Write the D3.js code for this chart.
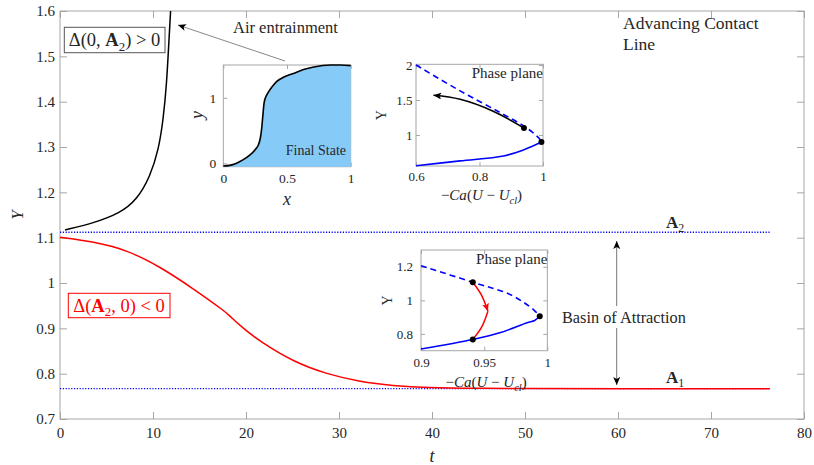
<!DOCTYPE html>
<html>
<head>
<meta charset="utf-8">
<script src="https://cdn.jsdelivr.net/npm/d3@7"></script>
<style>
body { margin: 0; background: #fff; }
text { font-family: "Liberation Serif", "DejaVu Serif", serif; fill: #262626; white-space: pre; }
</style>
</head>
<body>
<svg id="chart" width="814" height="465"></svg>
<script>
// ---- main plot data
const tTicks = [0, 10, 20, 30, 40, 50, 60, 70, 80];
const yTicks = [0.7, 0.8, 0.9, 1, 1.1, 1.2, 1.3, 1.4, 1.5, 1.6];

const levelA2 = 1.112, levelA1 = 0.767, tEnd = 76.3;

// decaying run (red), goes to A1
const redT = [0, 3.6, 7.2, 10.75, 14.3, 17.9, 18.2, 19.7, 21.5, 25.1, 28.7, 32.3, 35.8, 39.4, 45, 50, 60, 76.3];
const redY = [1.101, 1.091, 1.073, 1.036, 0.988, 0.935, 0.928, 0.900, 0.871, 0.826, 0.799, 0.782, 0.7735, 0.769, 0.7675, 0.767, 0.767, 0.767];

// blowing-up run (black), air entrainment
const blackT = [0.54, 3.6, 6.45, 8.25, 9.7, 10.6, 11.1, 11.47, 11.7, 11.9];
const blackY = [1.117, 1.132, 1.154, 1.183, 1.235, 1.294, 1.36, 1.44, 1.53, 1.603];

// ---- inset: final state profile
const profX = [0, 0.05, 0.1, 0.15, 0.21, 0.25, 0.275, 0.29, 0.30, 0.31, 0.32, 0.335, 0.355, 0.38, 0.42, 0.48, 0.55, 0.63, 0.71, 0.84, 0.92, 1.0];
const profY = [-0.04, -0.03, 0.0, 0.05, 0.13, 0.21, 0.28, 0.38, 0.51, 0.72, 0.92, 1.02, 1.09, 1.16, 1.25, 1.32, 1.37, 1.43, 1.47, 1.50, 1.50, 1.49];
const profXTicks = [0, 0.5, 1], profYTicks = [0, 1];

// ---- inset: phase plane (upper)
const pp1XTicks = [0.6, 0.8, 1], pp1YTicks = [1, 1.5, 2];
const pp1DashX = [0.6, 0.739, 0.865, 0.949, 0.99, 0.995];
const pp1DashY = [2.0, 1.63, 1.32, 1.10, 0.94, 0.9];
const pp1SolidX = [0.6, 0.739, 0.875, 0.938, 0.98, 0.995];
const pp1SolidY = [0.56, 0.63, 0.70, 0.786, 0.867, 0.9];
const pp1TrajX = [0.94, 0.843, 0.739, 0.655];
const pp1TrajY = [1.10, 1.34, 1.51, 1.567];
const pp1DotX = [0.94, 0.995], pp1DotY = [1.10, 0.9];

// ---- inset: phase plane (lower)
const pp2XTicks = [0.9, 0.95, 1], pp2YTicks = [0.8, 1, 1.2];
const pp2DashX = [0.9, 0.941, 0.971, 0.989, 0.994];
const pp2DashY = [1.206, 1.108, 1.033, 0.945, 0.905];
const pp2SolidX = [0.9, 0.941, 0.963, 0.984, 0.99, 0.994];
const pp2SolidY = [0.71, 0.767, 0.808, 0.867, 0.88, 0.905];
const pp2TrajX = [0.941, 0.948, 0.953, 0.948, 0.941];
const pp2TrajY = [1.108, 1.03, 0.935, 0.84, 0.767];
const pp2DotX = [0.941, 0.941, 0.994], pp2DotY = [1.108, 0.767, 0.905];

const zip = (a, b) => a.map((v, i) => [v, b[i]]);
const GRAY = '#a6a6a6', RED = '#ff0000', BLUE = '#0000ff';

const svg = d3.select('#chart');

const defs = svg.append('defs');
function head(id, color) {
    defs.append('marker').attr('id', id)
	.attr('markerUnits', 'userSpaceOnUse')
	.attr('markerWidth', 9).attr('markerHeight', 7)
	.attr('refX', 8).attr('refY', 3.5)
	.attr('orient', 'auto-start-reverse')
	.append('path').attr('d', 'M0,0 L8,3.5 L0,7 L2,3.5 z').attr('fill', color);
}
head('hk', '#000');
head('hr', RED);

// box with inward ticks on all four sides (matlab style)
function frame(g, x, y, o) {
    const [x0, x1] = x.range(), [y0, y1] = y.range();
    g.append('rect').attr('x', x0).attr('y', y1)
	.attr('width', x1 - x0).attr('height', y0 - y1)
	.attr('fill', 'none').attr('stroke', GRAY);
    const fmt = d3.format('~g');
    const sides = [
	[d3.axisBottom(x).tickValues(o.xt).tickPadding(o.px), `translate(0,${y0})`, true],
	[d3.axisTop(x).tickValues(o.xt), `translate(0,${y1})`, false],
	[d3.axisLeft(y).tickValues(o.yt).tickPadding(o.py), `translate(${x0},0)`, true],
	[d3.axisRight(y).tickValues(o.yt), `translate(${x1},0)`, false]
    ];
    sides.forEach(([ax, tr, lab]) => {
	const a = g.append('g').attr('transform', tr)
	    .call(ax.tickSize(-o.tl).tickSizeOuter(0).tickFormat(lab ? fmt : ''));
	a.attr('font-family', null).attr('font-size', o.fs);
	a.select('.domain').remove();
	a.selectAll('line').attr('stroke', GRAY);
	a.selectAll('text').attr('fill', '#262626');
    });
}

function mtext(sel, parts, fs) {
    let low = false;
    parts.forEach(([s, f = '']) => {
	const t = sel.append('tspan').text(s);
	if (f.includes('i')) t.attr('font-style', 'italic');
	if (f.includes('b')) t.attr('font-weight', 'bold');
	if (f.includes('s')) { t.attr('font-size', fs * 0.7).attr('dy', fs * 0.25); low = true; }
	else if (low) { t.attr('dy', -fs * 0.25); low = false; }
    });
    return sel;
}

// ---------- main axes
const x = d3.scaleLinear().domain([0, 80]).range([60, 804]);
const y = d3.scaleLinear().domain([0.7, 1.6]).range([419, 11]);

svg.append('clipPath').attr('id', 'clip').append('rect')
    .attr('x', 60).attr('y', 11).attr('width', 744).attr('height', 408);

const main = svg.append('g');
frame(main, x, y, { xt: tTicks, yt: yTicks, tl: 7, fs: 15, px: 8, py: 5 });

const line = d3.line().x(d => x(d[0])).y(d => y(d[1])).curve(d3.curveBasis);
const plot = main.append('g').attr('clip-path', 'url(#clip)');

[levelA2, levelA1].forEach(v => {
    plot.append('path').attr('d', line([[0, v], [tEnd, v]]))
	.attr('fill', 'none').attr('stroke', BLUE)
	.attr('stroke-width', 1.4).attr('stroke-dasharray', '1.2,1.6');
});
plot.append('path').attr('d', line(zip(redT, redY)))
    .attr('fill', 'none').attr('stroke', RED).attr('stroke-width', 1.5);
plot.append('path').attr('d', line(zip(blackT, blackY)))
    .attr('fill', 'none').attr('stroke', '#000').attr('stroke-width', 1.5);

main.append('text').attr('x', 432).attr('y', 462).attr('text-anchor', 'middle')
    .attr('font-size', 18).attr('font-style', 'italic').text('t');
main.append('text').attr('transform', 'translate(23,215) rotate(-90)')
    .attr('text-anchor', 'middle').attr('font-size', 17).attr('font-style', 'italic').text('Y');

// labels of the fixed points
mtext(main.append('text').attr('x', 666).attr('y', 228).attr('font-size', 17), [['A', 'b'], ['2', 's']], 17);
mtext(main.append('text').attr('x', 666).attr('y', 383).attr('font-size', 17), [['A', 'b'], ['1', 's']], 17);

// basin of attraction double arrow
main.append('line').attr('x1', 616.7).attr('x2', 616.7).attr('y1', 241).attr('y2', 385)
    .attr('stroke', '#777').attr('marker-start', 'url(#hk)').attr('marker-end', 'url(#hk)');
main.append('rect').attr('x', 560).attr('y', 306).attr('width', 132).attr('height', 22).attr('fill', '#fff');
main.append('text').attr('x', 562).attr('y', 323).attr('font-size', 16.3).text('Basin of Attraction');

// air entrainment annotation
main.append('line').attr('x1', 285).attr('y1', 61).attr('x2', 178).attr('y2', 25)
    .attr('stroke', '#888').attr('marker-end', 'url(#hk)');
main.append('text').attr('x', 233).attr('y', 33).attr('font-size', 16.5).text('Air entrainment');

main.append('text').attr('x', 623).attr('y', 29).attr('font-size', 17.5).text('Advancing Contact');
main.append('text').attr('x', 623).attr('y', 50).attr('font-size', 17.5).text('Line');

// delta boxes
main.append('rect').attr('x', 64.3).attr('y', 27.3).attr('width', 100.7).attr('height', 25.4)
    .attr('fill', '#fff').attr('stroke', '#555');
mtext(main.append('text').attr('x', 114.5).attr('y', 46).attr('text-anchor', 'middle').attr('font-size', 18.5),
      [['Δ(0, '], ['A', 'b'], ['2', 's'], [') > 0']], 18.5);
main.append('rect').attr('x', 68.3).attr('y', 293.3).attr('width', 101.7).attr('height', 24.4)
    .attr('fill', '#fff').attr('stroke', RED);
mtext(main.append('text').attr('x', 119).attr('y', 311.5).attr('text-anchor', 'middle').attr('font-size', 18.5).attr('fill', RED),
      [['Δ('], ['A', 'b'], ['2', 's'], [', 0) < 0']], 18.5).selectAll('tspan').attr('fill', RED);

// ---------- inset: final state
const ix = d3.scaleLinear().domain([0, 1]).range([223.3, 350.7]);
const iy = d3.scaleLinear().domain([-0.05, 1.5]).range([166.7, 65]);
const ins1 = svg.append('g');
ins1.append('rect').attr('x', 223.3).attr('y', 65).attr('width', 127.4).attr('height', 101.7).attr('fill', '#fff');
frame(ins1, ix, iy, { xt: profXTicks, yt: profYTicks, tl: 4, fs: 13.5, px: 6.5, py: 7 });
const prof = zip(profX, profY);
ins1.append('path')
    .attr('d', d3.area().x(d => ix(d[0])).y0(iy(-0.05)).y1(d => iy(d[1])).curve(d3.curveMonotoneX)(prof))
    .attr('fill', '#86cbf8');
ins1.append('path')
    .attr('d', d3.line().x(d => ix(d[0])).y(d => iy(d[1])).curve(d3.curveMonotoneX)(prof))
    .attr('fill', 'none').attr('stroke', '#000').attr('stroke-width', 1.6);
ins1.append('text').attr('x', 346).attr('y', 155).attr('text-anchor', 'end').attr('font-size', 14).text('Final State');
ins1.append('text').attr('x', 287).attr('y', 205).attr('text-anchor', 'middle')
    .attr('font-size', 18).attr('font-style', 'italic').text('x');
ins1.append('text').attr('transform', 'translate(203,115) rotate(-90)').attr('text-anchor', 'middle')
    .attr('font-size', 18).attr('font-style', 'italic').text('y');

// ---------- phase plane insets
function phase(o) {
    const g = svg.append('g');
    const px = d3.scaleLinear().domain(o.xd).range(o.xr);
    const py = d3.scaleLinear().domain(o.yd).range(o.yr);
    g.append('rect').attr('x', o.xr[0]).attr('y', o.yr[1])
	.attr('width', o.xr[1] - o.xr[0]).attr('height', o.yr[0] - o.yr[1]).attr('fill', '#fff');
    frame(g, px, py, { xt: o.xt, yt: o.yt, tl: 4, fs: 13, px: o.padx, py: o.pady });
    const l = d3.line().x(d => px(d[0])).y(d => py(d[1])).curve(d3.curveCatmullRom);
    g.append('path').attr('d', l(zip(o.dashX, o.dashY)))
	.attr('fill', 'none').attr('stroke', BLUE).attr('stroke-width', 1.6).attr('stroke-dasharray', '6,4');
    g.append('path').attr('d', l(zip(o.solidX, o.solidY)))
	.attr('fill', 'none').attr('stroke', BLUE).attr('stroke-width', 1.6);
    const traj = zip(o.trajX, o.trajY);
    if (o.mid) {
	g.append('path').attr('d', l(traj.slice(0, 3)))
	    .attr('fill', 'none').attr('stroke', o.color).attr('stroke-width', 1.5).attr('marker-end', 'url(#hr)');
	g.append('path').attr('d', l(traj.slice(2)))
	    .attr('fill', 'none').attr('stroke', o.color).attr('stroke-width', 1.5);
    } else {
	g.append('path').attr('d', l(traj))
	    .attr('fill', 'none').attr('stroke', o.color).attr('stroke-width', 1.5).attr('marker-end', 'url(#hk)');
    }
    g.selectAll('circle.dot').data(zip(o.dotX, o.dotY)).enter().append('circle')
	.attr('cx', d => px(d[0])).attr('cy', d => py(d[1])).attr('r', 3).attr('fill', '#000');
    g.append('text').attr('x', o.xr[1]).attr('y', o.yr[1] + 14).attr('text-anchor', 'end')
	.attr('font-size', 15).text('Phase plane');
    g.append('text').attr('transform', `translate(${o.ylx},${(o.yr[0] + o.yr[1]) / 2}) rotate(-90)`)
	.attr('text-anchor', 'middle').attr('font-size', 14).text('Y');
    mtext(g.append('text').attr('x', (o.xr[0] + o.xr[1]) / 2 + 2).attr('y', o.xly)
	  .attr('text-anchor', 'middle').attr('font-size', 15),
	  [['−'], ['Ca', 'i'], ['('], ['U', 'i'], [' − '], ['U', 'i'], ['cl', 'is'], [')']], 15);
}

phase({ xd: [0.6, 1], xr: [416, 543], yd: [0.557, 2.01], yr: [166, 64.3],
	xt: pp1XTicks, yt: pp1YTicks, padx: 5.5, pady: 3.5,
	dashX: pp1DashX, dashY: pp1DashY, solidX: pp1SolidX, solidY: pp1SolidY,
	trajX: pp1TrajX, trajY: pp1TrajY, dotX: pp1DotX, dotY: pp1DotY,
	color: '#000', mid: false, ylx: 386, xly: 200 });

phase({ xd: [0.9, 1], xr: [421, 547.3], yd: [0.7, 1.3], yr: [350.7, 250],
	xt: pp2XTicks, yt: pp2YTicks, padx: 7, pady: 8,
	dashX: pp2DashX, dashY: pp2DashY, solidX: pp2SolidX, solidY: pp2SolidY,
	trajX: pp2TrajX, trajY: pp2TrajY, dotX: pp2DotX, dotY: pp2DotY,
	color: RED, mid: true, ylx: 392, xly: 387 });
</script>
</body>
</html>
